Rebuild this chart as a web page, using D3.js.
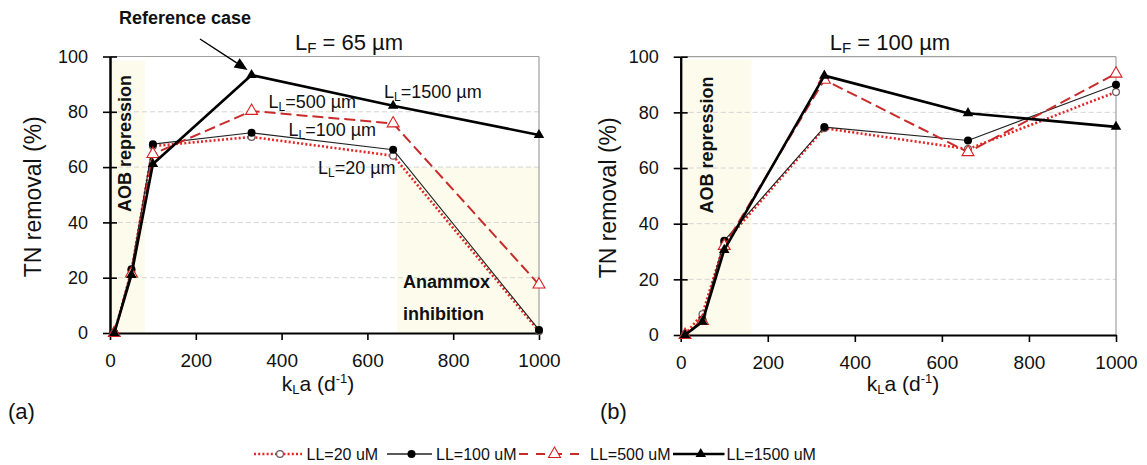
<!DOCTYPE html>
<html><head><meta charset="utf-8">
<script src="https://cdn.jsdelivr.net/npm/d3@7"></script>
<style>
body{margin:0;background:#fff;}
svg{display:block;font-family:"Liberation Sans",Arial,sans-serif;}
</style></head><body>
<svg id="fig" width="1147" height="465"></svg>
<script>
// Oxygen transfer coefficient kLa (d^-1) at which each run was simulated
const kla = [10, 50, 100, 330, 660, 1000];
const seriesNames = ["LL=20 uM", "LL=100 uM", "LL=500 uM", "LL=1500 uM"];
const xTicks = [0, 200, 400, 600, 800, 1000];
const yTicks = [0, 20, 40, 60, 80, 100];

// TN removal (%) for biofilm thickness LF = 65 µm
const lf65_ll20   = [0, 22.5, 67.6, 70.9, 64.1, 0.6];
const lf65_ll100  = [0, 23.1, 68.3, 72.4, 66.3, 1.1];
const lf65_ll500  = [0, 21.5, 64.7, 80.3, 75.8, 17.5];
const lf65_ll1500 = [0, 21.0, 61.1, 93.3, 82.2, 71.6];

// TN removal (%) for biofilm thickness LF = 100 µm
const lf100_ll20   = [0.3, 7.5, 33.0, 74.3, 66.8, 87.3];
const lf100_ll100  = [0, 5.5, 33.9, 74.7, 69.9, 89.9];
const lf100_ll500  = [0, 5.0, 32.0, 91.7, 65.7, 93.9];
const lf100_ll1500 = [0, 4.8, 30.6, 93.2, 79.7, 74.8];

// Shaded regimes: [kLa from, kLa to, % from, % to]
const lf65_regions  = [[0, 81, 0, 98.5], [667, 1000, 0, 60]];
const lf100_regions = [[0, 163, 0, 98.9]];

const svg = d3.select("#fig");
svg.append("rect").attr("width", 1147).attr("height", 465).attr("fill", "#fff");

const styles = [
  {color: "#e32626", width: 2.6, dash: "2,2.2", marker: "circleOpen"},
  {color: "#222", width: 1.1, dash: null, marker: "circle"},
  {color: "#c92a2a", width: 2, dash: "11,5", marker: "triangleOpen"},
  {color: "#000", width: 2.6, dash: null, marker: "triangle"}
];

function drawMarker(g, kind, cx, cy) {
  if (kind === "circle") {
    g.append("circle").attr("cx", cx).attr("cy", cy).attr("r", 4).attr("fill", "#000");
  } else if (kind === "circleOpen") {
    g.append("circle").attr("cx", cx).attr("cy", cy).attr("r", 3.4)
      .attr("fill", "#fff").attr("stroke", "#6b5a5a").attr("stroke-width", 1.2);
  } else if (kind === "triangle") {
    g.append("path").attr("d", d3.symbol(d3.symbolTriangle, 48)())
      .attr("transform", `translate(${cx},${cy})`).attr("fill", "#000");
  } else {
    g.append("path").attr("d", d3.symbol(d3.symbolTriangle, 62)())
      .attr("transform", `translate(${cx},${cy})`)
      .attr("fill", "#fff").attr("stroke", "#d62020").attr("stroke-width", 1.1);
  }
}

const panels = [
  {xr: [110, 539], yr: [333, 56.5], values: [lf65_ll20, lf65_ll100, lf65_ll500, lf65_ll1500],
   regions: lf65_regions, lf: "65", titleX: 349, ylabX: 41, letter: "(a)", letterX: 8, xlabX: 318, aobX: 130.5},
  {xr: [680.7, 1116], yr: [335, 56.7], values: [lf100_ll20, lf100_ll100, lf100_ll500, lf100_ll1500],
   regions: lf100_regions, lf: "100", titleX: 890, ylabX: 616, letter: "(b)", letterX: 600, xlabX: 903, aobX: 713}
];

panels.forEach((p, pi) => {
  const x = d3.scaleLinear().domain([0, 1000]).range(p.xr);
  const y = d3.scaleLinear().domain([0, 100]).range(p.yr);
  const g = svg.append("g");

  // shaded regimes
  g.selectAll("rect.reg").data(p.regions).join("rect")
    .attr("x", d => x(d[0]) + 1).attr("width", d => x(d[1]) - x(d[0]) - 1)
    .attr("y", d => y(d[3])).attr("height", d => y(d[2]) - y(d[3]))
    .attr("fill", "#fdfcec");

  // gridlines
  g.selectAll("line.grid").data(yTicks.filter(t => t > 0 && t < 100)).join("line")
    .attr("x1", x(0)).attr("x2", x(1000)).attr("y1", d => y(d)).attr("y2", d => y(d))
    .attr("stroke", "#d4d4d4").attr("stroke-width", 1).attr("stroke-dasharray", "5,3");
  g.append("line").attr("x1", x(0)).attr("x2", x(1000)).attr("y1", y(100)).attr("y2", y(100))
    .attr("stroke", "#a0a0a0").attr("stroke-width", 1.2);
  g.append("line").attr("x1", x(1000)).attr("x2", x(1000)).attr("y1", y(100)).attr("y2", y(0))
    .attr("stroke", "#a0a0a0").attr("stroke-width", 1.2);

  // axes
  const yAxis = g.append("g").attr("transform", `translate(${x(0)},0)`)
    .call(d3.axisLeft(y).tickValues(yTicks).tickSize(7).tickSizeOuter(0).tickPadding(15));
  const yAxisIn = g.append("g").attr("transform", `translate(${x(0)},0)`)
    .call(d3.axisRight(y).tickValues(yTicks).tickSize(7).tickSizeOuter(0).tickFormat(""));
  const xAxis = g.append("g").attr("transform", `translate(0,${y(0)})`)
    .call(d3.axisBottom(x).tickValues(xTicks).tickFormat(d3.format("d"))
      .tickSize(7).tickSizeOuter(0).tickPadding(14));
  [yAxis, yAxisIn, xAxis].forEach(a => {
    a.select(".domain").attr("stroke", "#000").attr("stroke-width", 2);
    a.selectAll(".tick line").attr("stroke", "#000").attr("stroke-width", 1.6);
  });
  yAxis.selectAll(".tick text").attr("font-size", 18).attr("fill", "#111")
    .attr("font-family", "'Liberation Sans',Arial,sans-serif");
  xAxis.selectAll(".tick text").attr("font-size", 19).attr("fill", "#111")
    .attr("font-family", "'Liberation Sans',Arial,sans-serif");

  // series
  p.values.forEach((vals, si) => {
    const st = styles[si];
    const line = d3.line().x((d, i) => x(kla[i])).y(d => y(d));
    g.append("path").datum(vals).attr("d", line).attr("fill", "none")
      .attr("stroke", st.color).attr("stroke-width", st.width)
      .attr("stroke-dasharray", st.dash).attr("stroke-linejoin", "round");
    vals.forEach((v, i) => drawMarker(g, st.marker, x(kla[i]), y(v)));
  });

  // title
  const t = g.append("text").attr("x", p.titleX).attr("y", 50).attr("text-anchor", "middle")
    .attr("font-size", 22).attr("fill", "#111");
  t.append("tspan").text("L");
  t.append("tspan").attr("font-size", 15).attr("dy", 3).text("F");
  t.append("tspan").attr("dy", -3).text(" = " + p.lf + " µm");

  // y axis title
  g.append("text").attr("transform", `translate(${p.ylabX},${(y(0) + y(100)) / 2 + 2}) rotate(-90)`)
    .attr("text-anchor", "middle").attr("font-size", 23).attr("fill", "#111").text("TN removal (%)");

  // x axis title
  const xl = g.append("text").attr("x", p.xlabX).attr("y", 391).attr("text-anchor", "middle")
    .attr("font-size", 21).attr("fill", "#111");
  xl.append("tspan").text("k");
  xl.append("tspan").attr("font-size", 13).attr("dy", 3).text("L");
  xl.append("tspan").attr("dy", -3).text("a (d");
  xl.append("tspan").attr("font-size", 13).attr("dy", -8).text("-1");
  xl.append("tspan").attr("dy", 8).text(")");

  // panel letter
  g.append("text").attr("x", p.letterX).attr("y", 419).attr("font-size", 22).attr("fill", "#111").text(p.letter);

  // AOB repression label
  g.append("text").attr("transform", `translate(${p.aobX},${(pi === 0 ? 143.5 : 145)}) rotate(-90)`)
    .attr("text-anchor", "middle").attr("font-size", 18).attr("font-weight", "bold").attr("fill", "#111")
    .text("AOB repression");

  if (pi === 0) {
    // thickness labels
    const lab = (txt, lx, ly) => {
      const e = g.append("text").attr("x", lx).attr("y", ly).attr("font-size", 18).attr("fill", "#111");
      e.append("tspan").text("L");
      e.append("tspan").attr("font-size", 12).attr("dy", 3).text("L");
      e.append("tspan").attr("dy", -3).text(txt);
    };
    lab("=1500 µm", 384, 98);
    lab("=500 µm", 268.5, 108);
    lab("=100 µm", 288.5, 136);
    lab("=20 µm", 318, 174);

    g.append("text").attr("x", 403).attr("y", 288).attr("font-size", 18).attr("font-weight", "bold")
      .attr("fill", "#111").text("Anammox");
    g.append("text").attr("x", 403).attr("y", 320).attr("font-size", 18).attr("font-weight", "bold")
      .attr("fill", "#111").text("inhibition");

    // reference case callout pointing at the LL=1500 peak
    g.append("text").attr("x", 185).attr("y", 24).attr("text-anchor", "middle").attr("font-size", 18)
      .attr("font-weight", "bold").attr("fill", "#111").text("Reference case");
    const tipX = x(kla[3]) - 4, tipY = y(lf65_ll1500[3]) - 5;
    const sx = 200, sy = 39;
    const ang = Math.atan2(tipY - sy, tipX - sx);
    const hl = 13, hw = 5.5;
    const bx = tipX - hl * Math.cos(ang), by = tipY - hl * Math.sin(ang);
    g.append("line").attr("x1", sx).attr("y1", sy).attr("x2", bx).attr("y2", by)
      .attr("stroke", "#000").attr("stroke-width", 1.4);
    g.append("path").attr("d", `M${tipX},${tipY}L${bx + hw * Math.sin(ang)},${by - hw * Math.cos(ang)}L${bx - hw * Math.sin(ang)},${by + hw * Math.cos(ang)}Z`)
      .attr("fill", "#000");
  }
});

// legend
const legendY = 454;
const legendItems = [
  {x0: 254, x1: 302, tx: 306.5},
  {x0: 387, x1: 432, tx: 436},
  {x0: 519, x1: 586, tx: 590},
  {x0: 673, x1: 724.5, tx: 726.5}
];
const lg = svg.append("g");
seriesNames.forEach((name, i) => {
  const it = legendItems[i], st = styles[i];
  lg.append("line").attr("x1", it.x0).attr("x2", it.x1).attr("y1", legendY).attr("y2", legendY)
    .attr("stroke", st.color).attr("stroke-width", i === 2 ? 2 : (i === 1 ? 1.3 : st.width))
    .attr("stroke-dasharray", i === 2 ? "9,8" : st.dash);
  drawMarker(lg, st.marker, (it.x0 + it.x1) / 2 + 2, legendY);
  lg.append("text").attr("x", it.tx).attr("y", legendY + 6).attr("font-size", 16).attr("fill", "#111").text(name);
});
</script></body></html>
